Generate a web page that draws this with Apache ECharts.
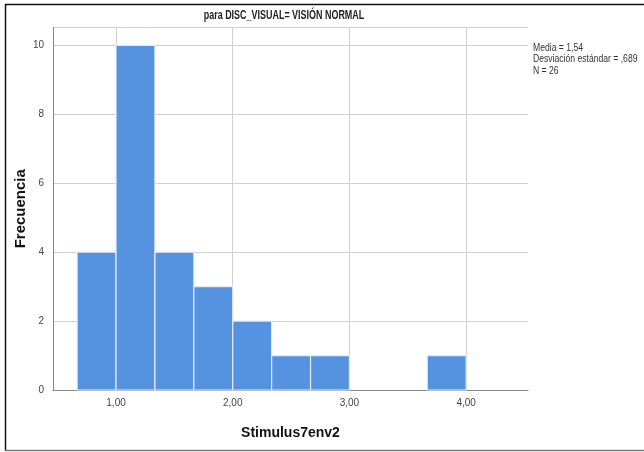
<!DOCTYPE html>
<html>
<head>
<meta charset="utf-8">
<style>
  html, body { margin: 0; padding: 0; background: #fff; }
  #chart { width: 644px; height: 452px; }
</style>
<script src="https://cdn.jsdelivr.net/npm/echarts@6/dist/echarts.min.js"></script>
</head>
<body>
<div id="chart"></div>
<script>
// Histogram bins (lower edge, upper edge) and frequencies
const binStarts = [0.6667, 1.0, 1.3333, 1.6667, 2.0, 2.3333, 2.6667, 3.0, 3.3333, 3.6667];
const binEnds   = [1.0, 1.3333, 1.6667, 2.0, 2.3333, 2.6667, 3.0, 3.3333, 3.6667, 4.0];
const counts    = [4, 10, 4, 3, 2, 1, 1, 0, 0, 1];
const xTicks    = [1, 2, 3, 4];
const statLines = ['Media = 1,54', 'Desviación estándar = ,689', 'N = 26'];
const titleText = 'para DISC_VISUAL= VISIÓN NORMAL';

const chart = echarts.init(document.getElementById('chart'));
const sans = '"Liberation Sans", Arial, sans-serif';

const option = {
  animation: false,
  backgroundColor: '#ffffff',
  grid: { left: 53, top: 27.5, width: 475, height: 362.5, containLabel: false, outerBoundsMode: 'none' },
  xAxis: {
    type: 'value', min: 0.46, max: 4.53,
    name: 'Stimulus7env2', nameLocation: 'middle', nameGap: 36,
    nameTextStyle: { fontFamily: sans, fontWeight: 'bold', fontSize: 14, color: '#111' },
    axisLine: { show: true, lineStyle: { color: '#888', width: 1 } },
    axisTick: { show: false, customValues: xTicks },
    axisLabel: {
      customValues: xTicks, margin: 8,
      formatter: v => v.toFixed(2).replace('.', ','),
      fontFamily: sans, fontSize: 10, color: '#444'
    },
    splitLine: { show: true, lineStyle: { color: '#d0d0d0', width: 1 } }
  },
  yAxis: {
    type: 'value', min: 0, max: 10.52, interval: 2,
    name: 'Frecuencia', nameLocation: 'middle', nameGap: 25, nameRotate: 90,
    nameMoveOverlap: false,
    nameTextStyle: { fontFamily: sans, fontWeight: 'bold', fontSize: 15, color: '#111' },
    axisLine: { show: true, lineStyle: { color: '#888', width: 1 } },
    axisTick: { show: false },
    axisLabel: { margin: 9, fontFamily: sans, fontSize: 10, color: '#444', showMaxLabel: false },
    splitLine: { show: true, lineStyle: { color: '#d0d0d0', width: 1 } }
  },
  series: [{
    type: 'custom',
    data: counts.map((c, i) => [binStarts[i], binEnds[i], c]),
    encode: { x: [0, 1], y: 2 },
    renderItem: function (params, api) {
      const h = api.value(2);
      if (!h) return null;
      const p0 = api.coord([api.value(0), 0]);
      const p1 = api.coord([api.value(1), h]);
      return {
        type: 'rect',
        shape: { x: p0[0], y: p1[1], width: p1[0] - p0[0], height: p0[1] - p1[1] },
        style: { fill: '#5592e0', stroke: '#e4ebf5', lineWidth: 1.2 }
      };
    },
    z: 3
  }],
  graphic: [
    // condensed-looking title
    {
      type: 'text', x: 284, y: 15, scaleX: 0.7,
      style: {
        text: titleText, align: 'center', verticalAlign: 'middle',
        font: 'bold 12.8px ' + sans, fill: '#222'
      }
    },
    // summary statistics
    {
      type: 'text', x: 533, y: 42, scaleX: 0.86,
      style: {
        text: statLines.join('\n'),
        font: '10px ' + sans, fill: '#333', lineHeight: 11.5
      }
    },
    // frame around the figure
    { type: 'line', shape: { x1: 5, y1: 4.5, x2: 644, y2: 4.5 }, style: { stroke: '#111', lineWidth: 1.5 } },
    { type: 'line', shape: { x1: 5.5, y1: 4, x2: 5.5, y2: 451 }, style: { stroke: '#111', lineWidth: 1.5 } },
    { type: 'line', shape: { x1: 5, y1: 450.5, x2: 644, y2: 450.5 }, style: { stroke: '#777', lineWidth: 1.5 } }
  ]
};
chart.setOption(option);
</script>
</body>
</html>
